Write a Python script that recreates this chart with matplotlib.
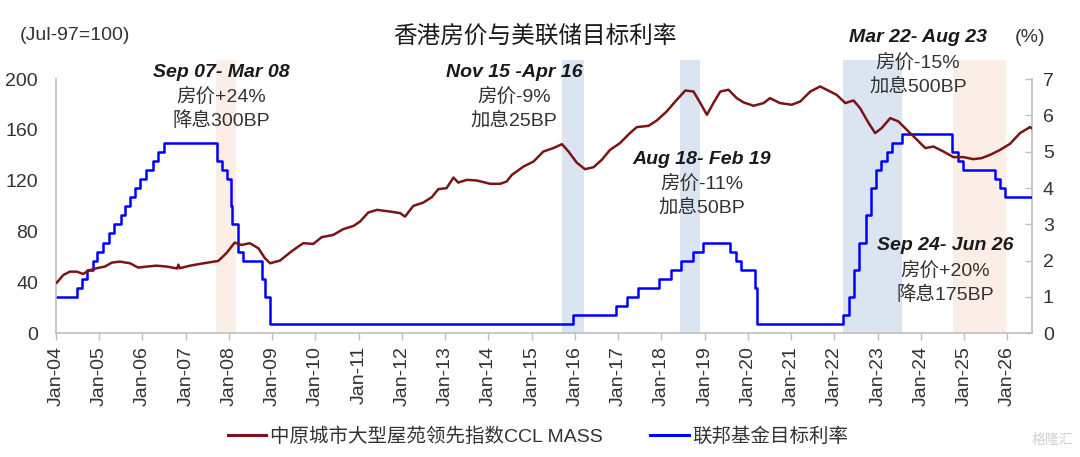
import datetime
import matplotlib
matplotlib.use("Agg")
import matplotlib.pyplot as plt

plt.rcParams['font.family'] = ['Liberation Sans', 'Noto Sans CJK SC', 'DejaVu Sans']
plt.rcParams['axes.unicode_minus'] = False

# CCL MASS index (Jul-97=100)
ccl_t = [2004.02, 2004.17, 2004.32, 2004.48, 2004.63, 2004.75, 2004.94, 2005.13, 2005.29, 2005.48,
         2005.71, 2005.90, 2006.10, 2006.33, 2006.56, 2006.80, 2006.83, 2006.86, 2007.10, 2007.33,
         2007.56, 2007.75, 2007.94, 2008.13, 2008.29, 2008.48, 2008.68, 2008.83, 2008.95, 2009.18,
         2009.41, 2009.60, 2009.72, 2009.95, 2010.14, 2010.41, 2010.64, 2010.88, 2011.03, 2011.22,
         2011.42, 2011.72, 2011.96, 2012.07, 2012.26, 2012.49, 2012.69, 2012.84, 2013.03, 2013.19,
         2013.30, 2013.50, 2013.73, 2014.04, 2014.27, 2014.42, 2014.54, 2014.81, 2015.04, 2015.27,
         2015.50, 2015.70, 2015.85, 2016.04, 2016.23, 2016.43, 2016.62, 2016.81, 2017.04, 2017.27,
         2017.43, 2017.70, 2017.89, 2018.12, 2018.32, 2018.55, 2018.74, 2018.89, 2019.05, 2019.20,
         2019.36, 2019.55, 2019.74, 2019.90, 2020.13, 2020.36, 2020.51, 2020.74, 2021.01, 2021.21,
         2021.44, 2021.67, 2021.90, 2022.05, 2022.25, 2022.44, 2022.59, 2022.79, 2022.94, 2023.09,
         2023.29, 2023.48, 2023.67, 2023.87, 2024.10, 2024.29, 2024.52, 2024.75, 2024.98, 2025.21,
         2025.40, 2025.60, 2025.83, 2026.06, 2026.29, 2026.52, 2026.56]
ccl_v = [39.9, 45.9, 48.5, 48.5, 46.7, 49.3, 51.2, 52.5, 55.6, 56.4,
         55.1, 51.7, 52.5, 53.2, 52.5, 51.0, 54.0, 51.2, 53.2, 54.6,
         55.9, 56.9, 63.0, 71.3, 69.5, 70.9, 66.9, 59.1, 55.1, 57.2,
         63.5, 68.2, 70.9, 70.3, 75.6, 77.4, 81.9, 84.5, 87.9, 95.0,
         97.1, 95.8, 94.5, 91.8, 100.2, 102.8, 107.1, 113.4, 114.2, 122.5,
         118.6, 120.7, 120.2, 117.6, 117.6, 119.4, 124.6, 131.2, 135.1, 143.0,
         145.7, 148.8, 143.0, 134.3, 129.1, 130.7, 136.5, 144.3, 149.6, 157.5,
         162.2, 163.2, 167.4, 174.5, 182.4, 191.0, 190.2, 181.6, 171.9, 181.1,
         190.2, 191.6, 185.0, 181.6, 179.0, 181.1, 185.0, 181.1, 179.8, 182.4,
         190.2, 194.2, 190.2, 187.6, 181.1, 183.2, 177.2, 165.4, 157.5, 161.4,
         169.3, 166.6, 160.1, 153.5, 145.7, 146.9, 143.0, 138.6, 138.6, 137.0,
         137.8, 140.4, 144.3, 149.1, 157.5, 162.2, 161.4]

# Fed funds target rate (upper bound, %), change dates
fed_dates = ['2004-01-01', '2004-06-30', '2004-08-10', '2004-09-21', '2004-11-10', '2004-12-14',
             '2005-02-02', '2005-03-22', '2005-05-03', '2005-06-30', '2005-08-09', '2005-09-20',
             '2005-11-01', '2005-12-13', '2006-01-31', '2006-03-28', '2006-05-10', '2006-06-29',
             '2007-09-18', '2007-10-31', '2007-12-11', '2008-01-22', '2008-01-30', '2008-03-18',
             '2008-04-30', '2008-10-08', '2008-10-29', '2008-12-16', '2015-12-16', '2016-12-14',
             '2017-03-15', '2017-06-14', '2017-12-13', '2018-03-21', '2018-06-13', '2018-09-26',
             '2018-12-19', '2019-07-31', '2019-09-18', '2019-10-30', '2020-03-03', '2020-03-15',
             '2022-03-16', '2022-05-04', '2022-06-15', '2022-07-27', '2022-09-21', '2022-11-02',
             '2022-12-14', '2023-02-01', '2023-03-22', '2023-05-03', '2023-07-26', '2024-09-18',
             '2024-11-07', '2024-12-18', '2025-09-17', '2025-10-29', '2025-12-10', '2026-07-22']
fed_rate = [1.00, 1.25, 1.50, 1.75, 2.00, 2.25,
            2.50, 2.75, 3.00, 3.25, 3.50, 3.75,
            4.00, 4.25, 4.50, 4.75, 5.00, 5.25,
            4.75, 4.50, 4.25, 3.50, 3.00, 2.25,
            2.00, 1.50, 1.00, 0.25, 0.50, 0.75,
            1.00, 1.25, 1.50, 1.75, 2.00, 2.25,
            2.50, 2.25, 2.00, 1.75, 1.25, 0.25,
            0.50, 1.00, 1.75, 2.50, 3.25, 4.00,
            4.50, 4.75, 5.00, 5.25, 5.50, 5.00,
            4.75, 4.50, 4.25, 4.00, 3.75, 3.75]

# shaded periods (start, end, colour kind)
shade_start = [2007.70, 2015.70, 2018.43, 2022.20, 2024.75]
shade_end = [2008.16, 2016.20, 2018.90, 2023.57, 2025.97]
shade_kind = ['cut', 'hike', 'hike', 'hike', 'cut']

years = list(range(2004, 2027))
xlabels = ['Jan-%02d' % (y % 100) for y in years]


def to_year(s):
    d = datetime.date.fromisoformat(s)
    return d.year + (d.timetuple().tm_yday - 1) / 365.0


fed_t = [to_year(s) for s in fed_dates]

W, H = 1080, 457
fig = plt.figure(figsize=(W / 100, H / 100), dpi=100)
ax = fig.add_axes([56 / W, 1 - 333.3 / H, (1031.7 - 56) / W, (333.3 - 60) / H])
ax2 = ax.twinx()

top = 215.0
for s, e, k in zip(shade_start, shade_end, shade_kind):
    ax2.axvspan(s, e, color='#FBEEE6' if k == 'cut' else '#DBE5F1', lw=0, zorder=0)

ax.plot(ccl_t, ccl_v, color='#7A1416', lw=1.8, zorder=3)
ax2.plot(fed_t, fed_rate, drawstyle='steps-post', color='#0000FF', lw=1.8, zorder=3)

ax.set_xlim(2004.0, 2026.56)
ax.set_ylim(0, top)
ax2.set_ylim(0, 7 * top / 200)

ax.set_yticks(range(0, 201, 40))
ax2.set_yticks(range(0, 8))
ax.set_xticks(years)
ax.set_xticklabels(xlabels, rotation=90)

grey = '#BFBFBF'
for a in (ax, ax2):
    a.spines['top'].set_visible(False)
    for sp in ('left', 'right', 'bottom'):
        a.spines[sp].set_color(grey)
        a.spines[sp].set_linewidth(1.2)
ax.spines['left'].set_bounds(0, 200)
ax2.spines['right'].set_bounds(0, 7)
ax.spines['right'].set_visible(False)
ax2.spines['left'].set_visible(False)
ax2.spines['bottom'].set_visible(False)

ax.tick_params(axis='y', length=0, pad=13, labelsize=14, labelcolor='#333333')
ax.tick_params(axis='x', direction='out', length=5, width=1, color=grey, pad=4,
               labelsize=14, labelcolor='#333333')
ax2.tick_params(axis='y', direction='in', length=5, width=1, color=grey, pad=8,
                labelsize=14, labelcolor='#333333')
ax.set_zorder(ax2.get_zorder() + 1)
ax.patch.set_visible(False)


def px(x, y):
    return x / W, 1 - y / H


fig.text(*px(20, 36), '(Jul-97=100)', fontsize=14, color='#333333', ha='left', va='center')
fig.text(*px(535, 38), '香港房价与美联储目标利率', fontsize=17, color='#1a1a1a', ha='center', va='center')
fig.text(*px(1030, 38), '(%)', fontsize=14, color='#333333', ha='center', va='center')

notes = [
    (221, 72, 'Sep 07- Mar 08', '房价+24%', '降息300BP'),
    (514, 72, 'Nov 15 -Apr 16', '房价-9%', '加息25BP'),
    (702, 159, 'Aug 18- Feb 19', '房价-11%', '加息50BP'),
    (918, 38, 'Mar 22- Aug 23', '房价-15%', '加息500BP'),
    (945, 246, 'Sep 24- Jun 26', '房价+20%', '降息175BP'),
]
for x, y, head, l1, l2 in notes:
    fig.text(*px(x, y), head, fontsize=14, fontweight='bold', fontstyle='italic',
             color='#1a1a1a', ha='center', va='center')
    fig.text(*px(x, y + 24.5), l1, fontsize=14, color='#333333', ha='center', va='center')
    fig.text(*px(x, y + 49), l2, fontsize=14, color='#333333', ha='center', va='center')

h1, = ax.plot([], [], color='#7A1416', lw=2.2)
h2, = ax.plot([], [], color='#0000FF', lw=2.2)
fig.legend([h1, h2], ['中原城市大型屋苑领先指数CCL MASS', '联邦基金目标利率'],
           loc='center', bbox_to_anchor=(538 / W, 1 - 437 / H), ncol=2, frameon=False,
           fontsize=14, handlelength=2.0, handletextpad=0.2, columnspacing=2.4,
           labelcolor='#333333')

fig.text(*px(1052, 440), '格隆汇', fontsize=10, color='#D0D0D0', ha='center', va='center')

fig.savefig('out.png', dpi=100)
